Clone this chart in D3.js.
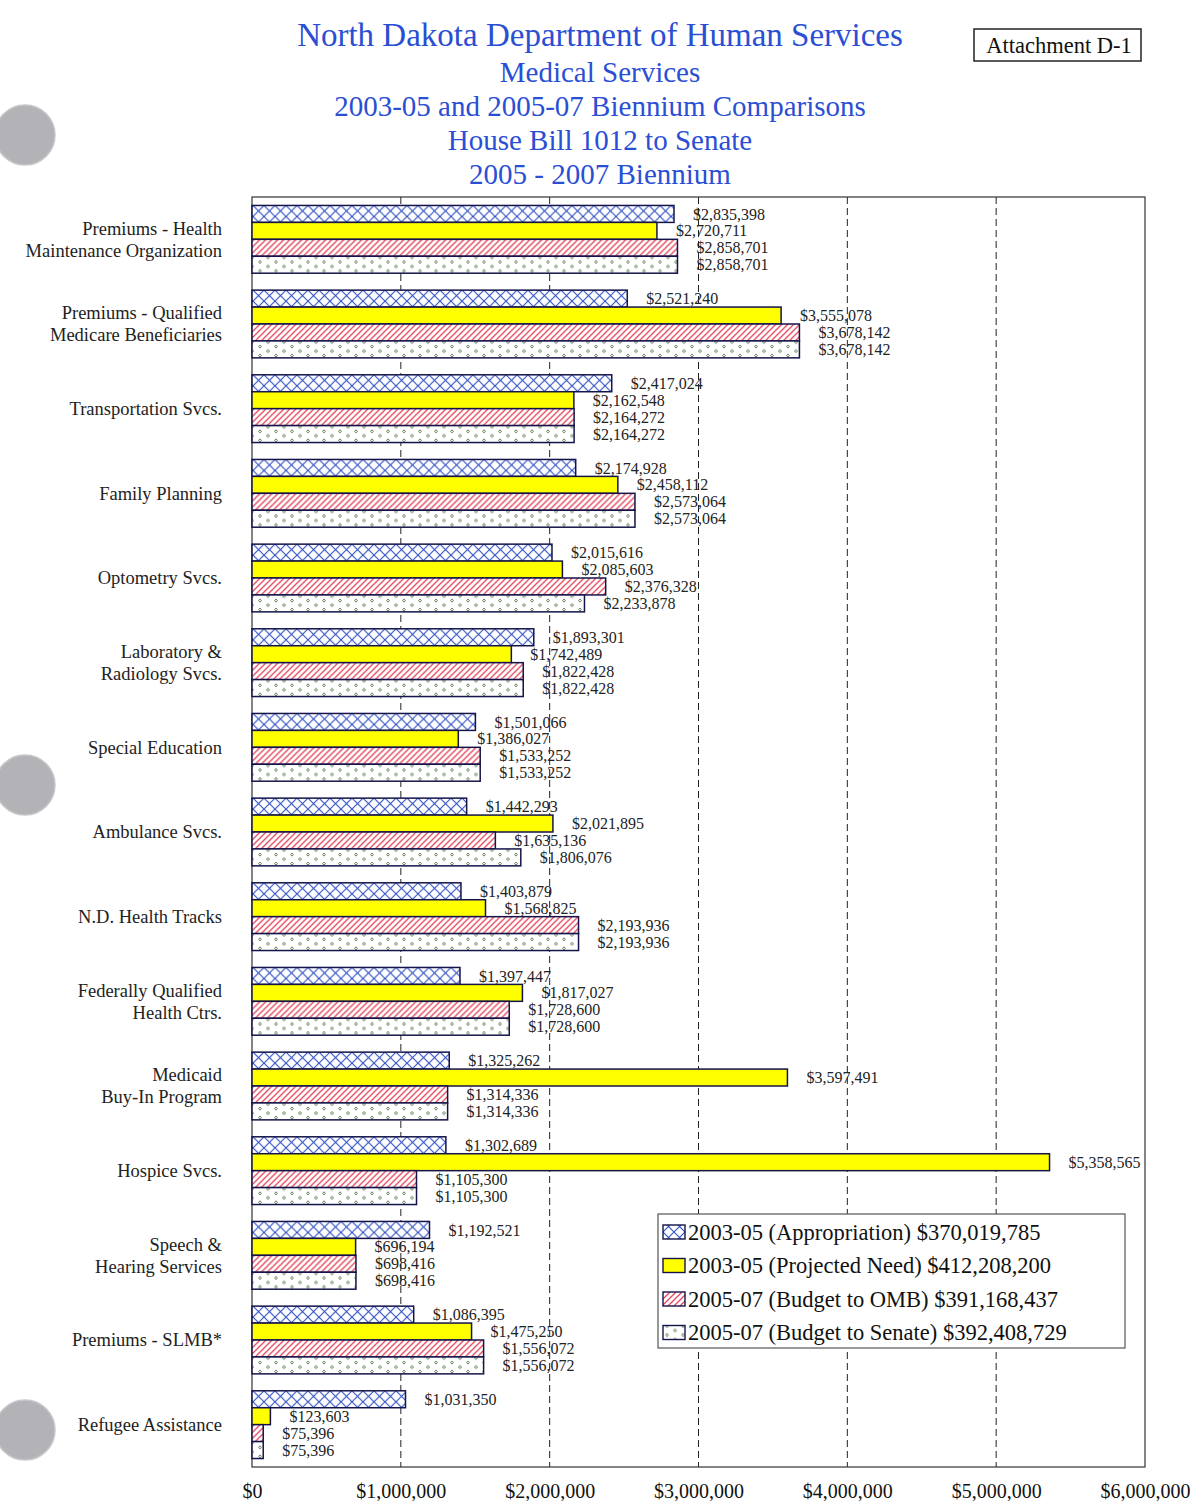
<!DOCTYPE html>
<html>
<head>
<meta charset="utf-8">
<script src="https://cdn.jsdelivr.net/npm/d3@7"></script>
<style>
  body { margin: 0; background: #fff; }
  svg { display: block; font-family: "Liberation Serif", "DejaVu Serif", serif; }
</style>
</head>
<body>
<script>
const categories = [
  ["Premiums - Health", "Maintenance Organization"],
  ["Premiums - Qualified", "Medicare Beneficiaries"],
  ["Transportation Svcs."],
  ["Family Planning"],
  ["Optometry Svcs."],
  ["Laboratory &", "Radiology Svcs."],
  ["Special Education"],
  ["Ambulance Svcs."],
  ["N.D. Health Tracks"],
  ["Federally Qualified", "Health Ctrs."],
  ["Medicaid", "Buy-In Program"],
  ["Hospice Svcs."],
  ["Speech &", "Hearing Services"],
  ["Premiums - SLMB*"],
  ["Refugee Assistance"]
];
const seriesNames = [
  "2003-05 (Appropriation) $370,019,785",
  "2003-05 (Projected Need) $412,208,200",
  "2005-07 (Budget to OMB) $391,168,437",
  "2005-07 (Budget to Senate) $392,408,729"
];
const appropriation = [2835398, 2521240, 2417024, 2174928, 2015616, 1893301, 1501066, 1442293, 1403879, 1397447, 1325262, 1302689, 1192521, 1086395, 1031350];
const projectedNeed = [2720711, 3555078, 2162548, 2458112, 2085603, 1742489, 1386027, 2021895, 1568825, 1817027, 3597491, 5358565, 696194, 1475250, 123603];
const budgetOmb = [2858701, 3678142, 2164272, 2573064, 2376328, 1822428, 1533252, 1635136, 2193936, 1728600, 1314336, 1105300, 698416, 1556072, 75396];
const budgetSenate = [2858701, 3678142, 2164272, 2573064, 2233878, 1822428, 1533252, 1806076, 2193936, 1728600, 1314336, 1105300, 698416, 1556072, 75396];
const tickValues = [0, 1000000, 2000000, 3000000, 4000000, 5000000, 6000000];
const titleLines = [
  "North Dakota Department of Human Services",
  "Medical Services",
  "2003-05 and 2005-07 Biennium Comparisons",
  "House Bill 1012 to Senate",
  "2005 - 2007 Biennium"
];

const allSeries = [appropriation, projectedNeed, budgetOmb, budgetSenate];
const fills = ["url(#cross)", "#ffff00", "url(#stripe)", "url(#dots)"];
const W = 1202, H = 1501;
const outline = "#14144a";

const svg = d3.select("body").append("svg")
  .attr("width", W)
  .attr("height", H);

// patterns
const defs = svg.append("defs");
const cross = defs.append("pattern")
  .attr("id", "cross").attr("patternUnits", "userSpaceOnUse")
  .attr("width", 11).attr("height", 11);
cross.append("rect").attr("width", 11).attr("height", 11).attr("fill", "#fff");
cross.append("path").attr("d", "M0,0L11,11M11,0L0,11")
  .attr("stroke", "#2f4fc4").attr("stroke-width", 1.1);

const stripe = defs.append("pattern")
  .attr("id", "stripe").attr("patternUnits", "userSpaceOnUse")
  .attr("width", 6).attr("height", 6);
stripe.append("rect").attr("width", 6).attr("height", 6).attr("fill", "#fff");
stripe.append("path").attr("d", "M-1,7L7,-1M-4,4L4,-4M2,10L10,2")
  .attr("stroke", "#e8455a").attr("stroke-width", 1.3);

const dots = defs.append("pattern")
  .attr("id", "dots").attr("patternUnits", "userSpaceOnUse")
  .attr("width", 16).attr("height", 9);
dots.append("rect").attr("width", 16).attr("height", 9).attr("fill", "#fff");
dots.append("path").attr("d", "M4,1L5.5,2.5L4,4L2.5,2.5Z M12,5.5L13.5,7L12,8.5L10.5,7Z")
  .attr("fill", "none").attr("stroke", "#4a6a38").attr("stroke-width", 0.9);

// hole punches
[135, 785, 1430].forEach(cy => {
  svg.append("circle").attr("cx", 25).attr("cy", cy).attr("r", 30)
    .attr("fill", "#b3b3b7").attr("stroke", "#c8c8cc").attr("stroke-width", 1.5);
});

// title
svg.append("g").selectAll("text")
  .data(titleLines)
  .enter().append("text")
  .attr("x", 600)
  .attr("y", (d, i) => i === 0 ? 46 : 82 + (i - 1) * 34)
  .attr("text-anchor", "middle")
  .attr("fill", "#2a4fd4")
  .attr("font-size", (d, i) => i === 0 ? 33 : 29)
  .text(d => d);

svg.append("rect").attr("x", 974).attr("y", 29).attr("width", 167).attr("height", 32)
  .attr("fill", "none").attr("stroke", "#222").attr("stroke-width", 1.5);
svg.append("text").attr("x", 1059).attr("y", 53).attr("text-anchor", "middle")
  .attr("font-size", 22.5).attr("fill", "#111").text("Attachment D-1");

// scales
const x = d3.scaleLinear().domain([0, 6000000]).range([252, 1145]);
const y0 = d3.scaleBand().domain(d3.range(categories.length))
  .range([197, 1467]).paddingInner(0.2).paddingOuter(0.1);
const y1 = d3.scaleBand().domain(d3.range(4)).range([0, y0.bandwidth()]);

// grid
svg.append("g").selectAll("line")
  .data(tickValues.slice(1, -1))
  .enter().append("line")
  .attr("x1", d => x(d)).attr("x2", d => x(d))
  .attr("y1", 197).attr("y2", 1467)
  .attr("stroke", "#222").attr("stroke-width", 1)
  .attr("stroke-dasharray", "7,4");

svg.append("rect").attr("x", 252).attr("y", 197)
  .attr("width", x(6000000) - 252).attr("height", 1467 - 197)
  .attr("fill", "none").attr("stroke", "#333").attr("stroke-width", 1.2);

// axis labels
const axis = d3.axisBottom(x).tickValues(tickValues).tickSize(0)
  .tickFormat(d => "$" + d3.format(",")(d));
const ax = svg.append("g").attr("transform", "translate(0,1481)").call(axis);
ax.select(".domain").remove();
ax.selectAll("text").attr("font-family", "Liberation Serif").attr("font-size", 20).attr("fill", "#111");

// bars
const groups = svg.append("g").selectAll("g")
  .data(categories.map((c, i) => i))
  .enter().append("g")
  .attr("transform", i => `translate(0,${y0(i)})`);

groups.selectAll("rect")
  .data(i => allSeries.map((s, k) => ({ k, v: s[i] })))
  .enter().append("rect")
  .attr("x", x(0))
  .attr("y", d => y1(d.k))
  .attr("width", d => x(d.v) - x(0))
  .attr("height", y1.bandwidth())
  .attr("fill", d => fills[d.k])
  .attr("stroke", outline).attr("stroke-width", 1.5);

groups.selectAll("text.val")
  .data(i => allSeries.map((s, k) => ({ k, v: s[i] })))
  .enter().append("text")
  .attr("class", "val")
  .attr("x", d => x(d.v) + 19)
  .attr("y", d => y1(d.k) + y1.bandwidth() / 2)
  .attr("dy", "0.35em")
  .attr("font-size", 16)
  .attr("fill", "#222")
  .text(d => "$" + d3.format(",")(d.v));

// category labels
groups.append("text")
  .attr("text-anchor", "end")
  .attr("font-size", 18.5)
  .attr("fill", "#222")
  .each(function (i) {
    const lines = categories[i];
    d3.select(this).selectAll("tspan")
      .data(lines)
      .enter().append("tspan")
      .attr("x", 222)
      .attr("y", (t, j) => y0.bandwidth() / 2 + (j - (lines.length - 1) / 2) * 22)
      .attr("dy", "0.35em")
      .text(t => t);
  });

// legend
const lg = svg.append("g").attr("transform", "translate(658,1214)");
lg.append("rect").attr("width", 467).attr("height", 134)
  .attr("fill", "#fff").attr("stroke", "#555").attr("stroke-width", 1.2);
const items = lg.selectAll("g").data(seriesNames).enter().append("g")
  .attr("transform", (d, i) => `translate(5,${18 + i * 33.5})`);
items.append("rect").attr("x", 0).attr("y", -7).attr("width", 22).attr("height", 14)
  .attr("fill", (d, i) => fills[i]).attr("stroke", outline).attr("stroke-width", 1.4);
items.append("text").attr("x", 25).attr("dy", "0.35em")
  .attr("font-size", 22.5).attr("fill", "#111").text(d => d);
</script>
</body>
</html>
